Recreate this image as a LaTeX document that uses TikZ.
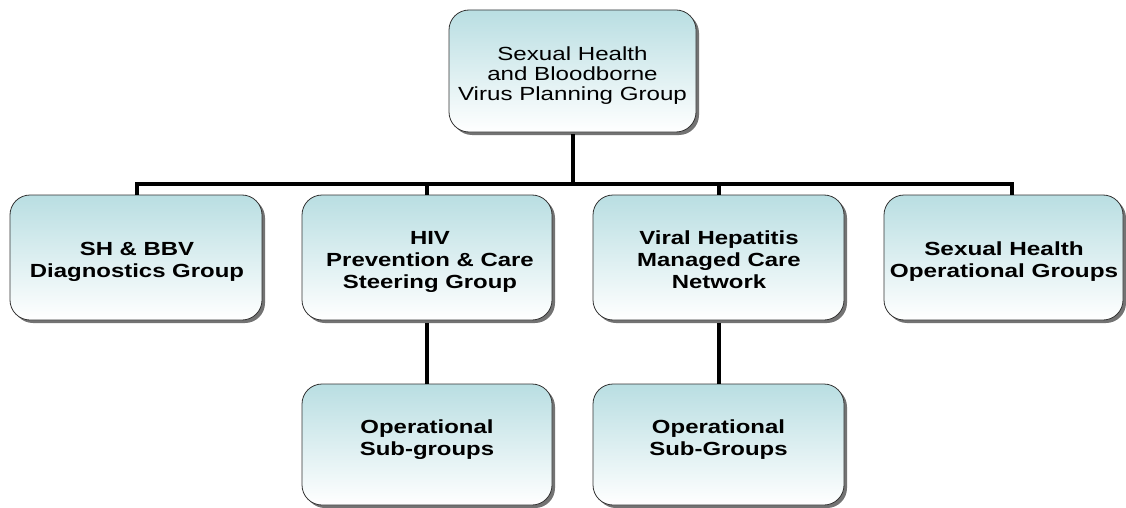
\documentclass[tikz,border=0pt]{standalone}
\usepackage{fontspec}
\setmainfont{Liberation Sans}
\usetikzlibrary{shadows}
\definecolor{boxtop}{HTML}{B9DEE2}
\definecolor{boxedge}{HTML}{333333}
\newcommand{\wtext}[2][1.26]{\scalebox{#1}[1]{\begin{tabular}{@{}c@{}}#2\end{tabular}}}
\begin{document}
\begin{tikzpicture}[x=1pt,y=-1pt,
  orgbox/.style={draw=boxedge,line width=0.8pt,rounded corners=20pt,
    top color=boxtop,bottom color=white,
    drop shadow={shadow xshift=3pt,shadow yshift=-3pt,fill=black!55,opacity=1}},
  boxtext/.style={align=center,inner sep=0pt,font=\fontsize{19}{22}\selectfont\bfseries},
  link/.style={line width=4pt,black}]
\useasboundingbox (0,0) rectangle (1126,508);
\begin{scope}
\clip (0,0) rectangle (1126,508);
\path[orgbox] (449,10) rectangle (696,132);
\path[orgbox] (10,195) rectangle (262,320);
\path[orgbox] (302,195) rectangle (552,320);
\path[orgbox] (593,195) rectangle (844,320);
\path[orgbox] (884,195) rectangle (1123,320);
\path[orgbox] (302,384) rectangle (552,505);
\path[orgbox] (593,384) rectangle (844,505);
\end{scope}
\node[boxtext,font=\fontsize{19}{20}\selectfont] (top) at (572.5,77) {\wtext[1.27]{Sexual Health\\and Bloodborne\\Virus Planning Group}};
\node[boxtext] (a) at (137,262) {\wtext{SH \& BBV\\Diagnostics Group}};
\node[boxtext] (b) at (430,262) {\wtext{HIV\\Prevention \& Care\\Steering Group}};
\node[boxtext] (c) at (719,262) {\wtext{Viral Hepatitis\\Managed Care\\Network}};
\node[boxtext] (d) at (1004,262) {\wtext[1.28]{Sexual Health\\Operational Groups}};
\node[boxtext] (e) at (427,440) {\wtext{Operational\\Sub-groups}};
\node[boxtext] (f) at (718.5,440) {\wtext{Operational\\Sub-Groups}};
\coordinate (tb) at (573,134);
\coordinate (hy) at (573,184);
\coordinate (ha) at (137,184);
\coordinate (hb) at (427,184);
\coordinate (hc) at (719,184);
\coordinate (hd) at (1012,184);
\coordinate (at) at (137,195);
\coordinate (bt) at (427,195);
\coordinate (ct) at (719,195);
\coordinate (dt) at (1012,195);
\coordinate (bb) at (427,323);
\coordinate (cb) at (719,323);
\coordinate (et) at (427,384);
\coordinate (ft) at (719,384);
\draw[link] (tb) -- (hy);
\draw[link] ([xshift=-2pt]ha) -- ([xshift=2pt]hd);
\draw[link] (ha) -- (at);
\draw[link] (hb) -- (bt);
\draw[link] (hc) -- (ct);
\draw[link] (hd) -- (dt);
\draw[link] (bb) -- (et);
\draw[link] (cb) -- (ft);
\end{tikzpicture}
\end{document}
